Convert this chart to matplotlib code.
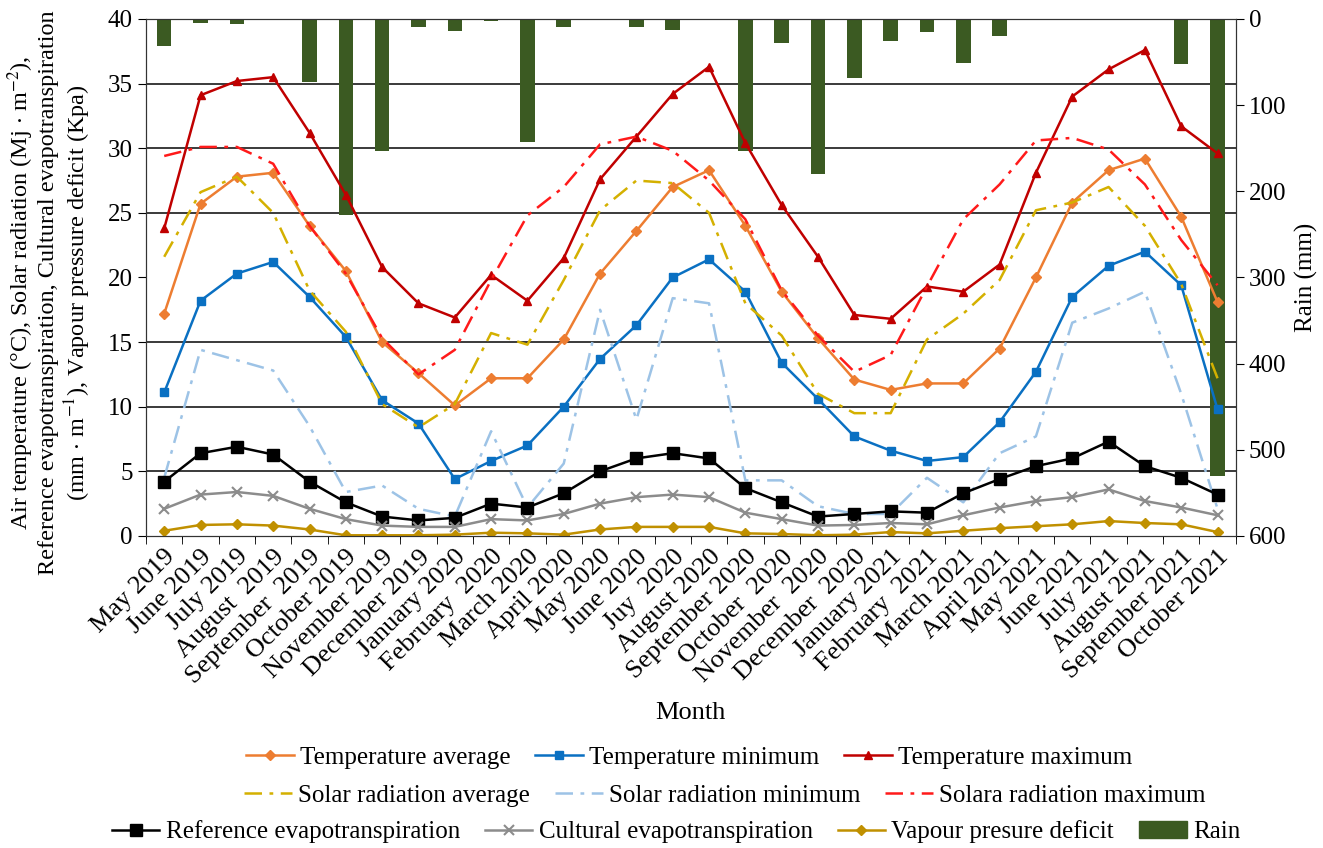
import matplotlib
matplotlib.use("Agg")
import matplotlib.pyplot as plt
from matplotlib.ticker import MultipleLocator, FixedLocator
from matplotlib.patches import Patch

months = ["May 2019", "June 2019", "July 2019", "August  2019", "September  2019",
          "October 2019", "November 2019", "December 2019", "January 2020",
          "February  2020", "March 2020", "April 2020", "May 2020", "June 2020",
          "Juy  2020", "August 2020", "September 2020", "October  2020",
          "November  2020", "December  2020", "January 2021", "February  2021",
          "March 2021", "April 2021", "May 2021", "June 2021", "July 2021",
          "August 2021", "September 2021", "October 2021"]

temp_avg = [17.2, 25.7, 27.8, 28.1, 24.0, 20.5, 15.0, 12.6, 10.1, 12.2, 12.2, 15.2,
            20.3, 23.6, 27.0, 28.3, 24.0, 18.9, 15.3, 12.1, 11.3, 11.8, 11.8, 14.5,
            20.0, 25.8, 28.3, 29.2, 24.7, 18.1]
temp_min = [11.1, 18.2, 20.3, 21.2, 18.5, 15.4, 10.5, 8.7, 4.4, 5.8, 7.0, 10.0,
            13.7, 16.3, 20.0, 21.4, 18.9, 13.4, 10.6, 7.7, 6.6, 5.8, 6.1, 8.8,
            12.7, 18.5, 20.9, 22.0, 19.4, 9.8]
temp_max = [23.8, 34.1, 35.2, 35.5, 31.2, 26.4, 20.8, 18.0, 16.9, 20.2, 18.2, 21.5,
            27.6, 30.9, 34.2, 36.3, 30.4, 25.6, 21.6, 17.1, 16.8, 19.3, 18.9, 21.0,
            28.1, 34.0, 36.1, 37.6, 31.7, 29.6]
solar_avg = [21.6, 26.6, 27.8, 25.0, 19.0, 15.8, 10.2, 8.4, 10.2, 15.7, 14.8, 19.8,
             25.2, 27.5, 27.3, 25.0, 18.0, 15.5, 11.0, 9.5, 9.5, 15.2, 17.2, 19.8,
             25.2, 25.8, 27.0, 24.0, 19.5, 12.2]
solar_min = [4.5, 14.4, 13.6, 12.8, 8.5, 3.4, 3.9, 2.1, 1.5, 8.1, 2.2, 5.6,
             17.5, 9.0, 18.4, 18.0, 4.3, 4.3, 2.3, 1.7, 1.7, 4.5, 2.6, 6.4,
             7.7, 16.5, 17.6, 18.9, 11.0, 2.1]
solar_max = [29.4, 30.1, 30.1, 28.8, 24.0, 20.3, 15.3, 12.5, 14.4, 19.8, 24.8, 27.0,
             30.3, 30.9, 29.8, 27.5, 24.5, 19.0, 15.5, 12.7, 14.0, 19.3, 24.5, 27.2,
             30.6, 30.8, 29.9, 27.2, 22.9, 19.4]
ref_et = [4.2, 6.4, 6.9, 6.3, 4.2, 2.6, 1.5, 1.2, 1.4, 2.5, 2.2, 3.3,
          5.0, 6.0, 6.4, 6.0, 3.7, 2.6, 1.5, 1.7, 1.9, 1.8, 3.3, 4.4,
          5.4, 6.0, 7.3, 5.4, 4.5, 3.2]
cult_et = [2.1, 3.2, 3.4, 3.1, 2.1, 1.3, 0.8, 0.7, 0.7, 1.3, 1.2, 1.7,
           2.5, 3.0, 3.2, 3.0, 1.8, 1.3, 0.8, 0.85, 1.0, 0.9, 1.6, 2.2,
           2.7, 3.0, 3.6, 2.7, 2.2, 1.6]
vpd = [0.4, 0.85, 0.9, 0.8, 0.5, 0.05, 0.05, 0.05, 0.1, 0.25, 0.2, 0.1,
       0.5, 0.7, 0.7, 0.7, 0.2, 0.15, 0.05, 0.1, 0.3, 0.2, 0.4, 0.6,
       0.75, 0.9, 1.15, 1.0, 0.9, 0.3]
rain = [31, 5, 6, 1, 73, 227, 153, 9, 14, 2, 143, 9,
        1, 9, 13, 0.5, 153, 28, 180, 68, 25, 15, 51, 20,
        1, 0.5, 0.5, 0.5, 52, 530]

plt.rcParams['font.family'] = ['Liberation Serif', 'DejaVu Serif']
plt.rcParams['mathtext.fontset'] = 'stix'

FS = 19

fig = plt.figure(figsize=(13.23, 8.48), dpi=100)
ax2 = fig.add_axes([0.1104, 0.368, 0.8236, 0.6096])  # rain axis (bottom layer)
ax = fig.add_axes(ax2.get_position(), sharex=ax2)
ax.set_zorder(ax2.get_zorder() + 1)
ax.patch.set_visible(False)

x = list(range(len(months)))

# Rain bars (right axis, inverted)
ax2.bar(x, rain, width=0.4, color='#3B5A22', zorder=3)
ax2.set_ylim(600, 0)
ax2.yaxis.tick_right()
ax2.yaxis.set_label_position('right')
ax2.yaxis.set_major_locator(MultipleLocator(100))
ax2.yaxis.set_minor_locator(MultipleLocator(75))
ax2.grid(which='minor', axis='y', color='#3a3a3a', linewidth=1.4, zorder=1)
ax2.tick_params(axis='y', which='minor', length=0)
ax2.tick_params(axis='y', which='major', labelsize=18, direction='out', length=6)
ax2.set_ylabel('Rain (mm)', fontsize=18, labelpad=6)
ax2.set_axisbelow(True)

# Lines (left axis)
lw = 1.8
ax.plot(x, temp_avg, color='#ED7D31', marker='D', ms=5, lw=lw, label='Temperature average')
ax.plot(x, temp_min, color='#0A70C2', marker='s', ms=6, lw=lw, label='Temperature minimum')
ax.plot(x, temp_max, color='#C00000', marker='^', ms=6, lw=lw, label='Temperature maximum')
ax.plot(x, solar_avg, color='#D4B000', lw=lw, dashes=(7, 3, 1.5, 3), label='Solar radiation average')
ax.plot(x, solar_min, color='#9DC3E6', lw=lw, dashes=(7, 3, 1.5, 3), label='Solar radiation minimum')
ax.plot(x, solar_max, color='#FF1A1A', lw=lw, dashes=(7, 3, 1.5, 3), label='Solara radiation maximum')
ax.plot(x, ref_et, color='black', marker='s', ms=8, lw=lw, label='Reference evapotranspiration')
ax.plot(x, cult_et, color='#8C8C8C', marker='x', ms=7, mew=1.5, lw=lw, label='Cultural evapotranspiration')
ax.plot(x, vpd, color='#C09000', marker='D', ms=5, lw=lw, label='Vapour presure deficit')

ax.set_ylim(0, 40)
ax.yaxis.set_major_locator(MultipleLocator(5))
ax.tick_params(axis='y', labelsize=18, direction='out', length=6)
ax.set_xlim(-0.5, len(months) - 0.5)
ax.xaxis.set_major_locator(FixedLocator(x))
ax.set_xticklabels(months, rotation=45, ha='right', rotation_mode='anchor', fontsize=FS)
ax.tick_params(axis='x', which='major', length=0, pad=7)
ax.xaxis.set_minor_locator(FixedLocator([i - 0.5 for i in range(len(months) + 1)]))
ax.tick_params(axis='x', which='minor', length=6, direction='out')
ax.set_xlabel('Month', fontsize=FS, labelpad=10)
for s in ax.spines.values():
    s.set_color('#333333')
for s in ax2.spines.values():
    s.set_color('#333333')
ax2.tick_params(axis='x', labelbottom=False, length=0)

fig.text(0.037, 0.655,
         "Air temperature (°C), Solar radiation (Mj $\\cdot$ m$^{-2}$),\n"
         "Reference evapotranspiration, Cultural evapotranspiration\n"
         "(mm $\\cdot$ m$^{-1}$), Vapour pressure deficit (Kpa)",
         rotation=90, ha='center', va='center', multialignment='center',
         fontsize=17.5, linespacing=1.15)

handles, labels = ax.get_legend_handles_labels()
rain_patch = Patch(color='#3B5A22', label='Rain')
rows = [(handles[0:3], labels[0:3], 0.521, 0.107),
        (handles[3:6], labels[3:6], 0.548, 0.062),
        (handles[6:9] + [rain_patch], labels[6:9] + ['Rain'], 0.511, 0.019)]
for h, l, cx, cy in rows:
    fig.legend(h, l, loc='center', bbox_to_anchor=(cx, cy), ncol=len(h),
               frameon=False, fontsize=18, handlelength=1.9,
               handletextpad=0.25, columnspacing=1.0, borderpad=0)

fig.savefig('out.png', dpi=100)
